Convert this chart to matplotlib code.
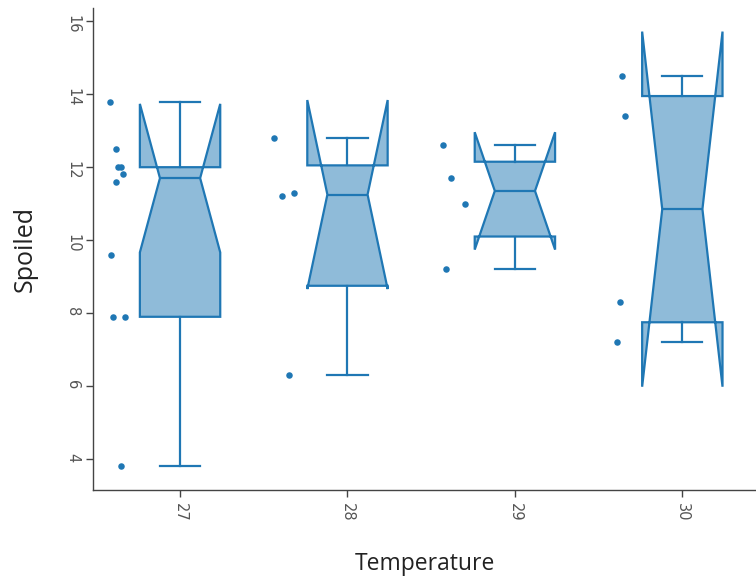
import numpy as np
import matplotlib
matplotlib.use("Agg")
import matplotlib.pyplot as plt

# data
temps = [27, 28, 29, 30]
spoiled_27 = [13.8, 12.5, 12.0, 12.0, 11.8, 11.6, 9.6, 7.9, 7.9, 3.8]
spoiled_28 = [12.8, 11.3, 11.2, 6.3]
spoiled_29 = [12.6, 11.7, 11.0, 9.2]
spoiled_30 = [14.5, 13.4, 8.3, 7.2]
groups = [spoiled_27, spoiled_28, spoiled_29, spoiled_30]

# horizontal offsets of the jittered points (left of each box)
jitter = [
    [-0.42, -0.38, -0.37, -0.35, -0.34, -0.38, -0.41, -0.40, -0.33, -0.35],
    [-0.44, -0.32, -0.39, -0.35],
    [-0.43, -0.38, -0.30, -0.41],
    [-0.36, -0.34, -0.37, -0.39],
]

LINE = "#1f77b4"
FILL = "#8fbbd9"


def median(v):
    v = sorted(v)
    n = len(v)
    if n % 2:
        return v[n // 2]
    return 0.5 * (v[n // 2 - 1] + v[n // 2])


def boxstats(vals, pos):
    """quartiles by the 'exclusive' (half median) method"""
    v = sorted(vals)
    n = len(v)
    med = median(v)
    lower = v[:n // 2]
    upper = v[(n + 1) // 2:]
    q1, q3 = median(lower), median(upper)
    half = 1.57 * (q3 - q1) / np.sqrt(n)
    return dict(med=med, q1=q1, q3=q3, whislo=min(v), whishi=max(v),
                cilo=med - half, cihi=med + half, fliers=[], label=str(pos))


stats = [boxstats(g, t) for g, t in zip(groups, temps)]

fig = plt.figure(figsize=(7.56, 5.8), dpi=100)
ax = fig.add_axes([0.123, 0.155, 0.877, 0.831])

lw = 1.6
ax.bxp(stats, positions=temps, widths=0.48, capwidths=0.24, shownotches=True,
       patch_artist=True,
       boxprops=dict(facecolor=FILL, edgecolor=LINE, linewidth=lw),
       medianprops=dict(color=LINE, linewidth=lw),
       whiskerprops=dict(color=LINE, linewidth=lw),
       capprops=dict(color=LINE, linewidth=lw))

for t, g, j in zip(temps, groups, jitter):
    ax.scatter(np.array(j) + t, g, s=22, color=LINE, zorder=3, linewidths=0)

ax.set_xlim(26.48, 30.44)
ax.set_ylim(3.15, 16.36)
ax.set_xticks(temps)
ax.set_xticklabels([str(t) for t in temps])
ax.set_yticks([4, 6, 8, 10, 12, 14, 16])

for s in ["top", "right"]:
    ax.spines[s].set_visible(False)
for s in ["left", "bottom"]:
    ax.spines[s].set_color("#444444")
    ax.spines[s].set_linewidth(1.0)

ax.tick_params(axis="both", colors="#444444", labelcolor="#555555",
               length=5, width=1, labelsize=10.5, pad=4)
for lab in ax.get_xticklabels() + ax.get_yticklabels():
    lab.set_rotation(-90)

ax.set_xlabel("Temperature", fontsize=16.5, family="Open Sans", color="#222222", labelpad=22)
ax.set_ylabel("Spoiled", fontsize=18, family="Open Sans", color="#222222", labelpad=20)

fig.savefig("out.png", dpi=100)
